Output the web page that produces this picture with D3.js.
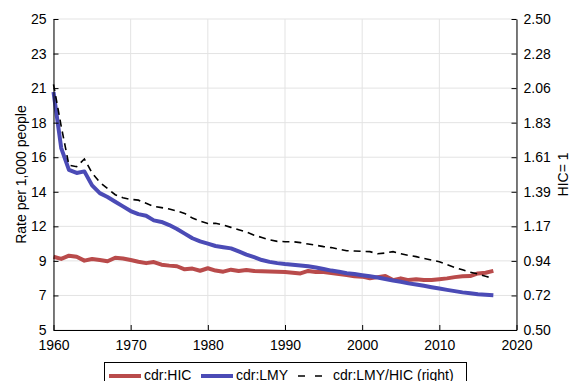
<!DOCTYPE html>
<html><head><meta charset="utf-8">
<script src="https://cdn.jsdelivr.net/npm/d3@7"></script>
<style>
html,body{margin:0;padding:0;background:#fff;}
svg{display:block;font-family:"Liberation Sans",Arial,Helvetica,sans-serif;}
</style></head>
<body>
<svg id="chart" width="573" height="381"></svg>
<script>
const years = d3.range(1960, 2018);
const hic = [9.71,9.57,9.78,9.71,9.46,9.57,9.5,9.42,9.65,9.6,
  9.5,9.39,9.3,9.37,9.2,9.14,9.1,8.9,8.95,8.81,
  8.97,8.82,8.75,8.88,8.8,8.86,8.8,8.78,8.76,8.75,
  8.73,8.68,8.64,8.8,8.73,8.73,8.66,8.6,8.54,8.45,
  8.43,8.32,8.4,8.47,8.21,8.32,8.21,8.26,8.22,8.22,
  8.27,8.32,8.4,8.45,8.47,8.64,8.68,8.8];
const lmy = [20.3,16.7,15.3,15.1,15.2,14.3,13.8,13.55,13.25,12.95,
  12.65,12.45,12.35,12.05,11.95,11.75,11.5,11.2,10.9,10.7,
  10.55,10.4,10.32,10.25,10.05,9.85,9.68,9.5,9.38,9.3,
  9.24,9.2,9.15,9.1,9.02,8.92,8.82,8.75,8.65,8.6,
  8.52,8.45,8.38,8.28,8.18,8.1,8.0,7.92,7.84,7.75,
  7.67,7.58,7.5,7.42,7.36,7.3,7.27,7.24];
const ratio = [2.08,1.81,1.56,1.55,1.60,1.51,1.45,1.41,1.37,1.35,
  1.34,1.335,1.315,1.295,1.287,1.278,1.265,1.25,1.22,1.2,
  1.185,1.186,1.175,1.16,1.145,1.13,1.11,1.095,1.08,1.07,
  1.068,1.068,1.062,1.053,1.045,1.036,1.03,1.02,1.01,1.008,
  1.006,1.004,0.99,0.995,1.004,0.99,0.98,0.972,0.96,0.95,
  0.939,0.92,0.902,0.887,0.872,0.86,0.845,0.832];
const xTicks = [1960,1970,1980,1990,2000,2010,2020];
const leftTicks = d3.range(10).map(i => 5 + i*20/9);
const leftTickLabels = ["5","7","9","12","14","16","18","21","23","25"];
const rightTicks = d3.range(10).map(i => 0.5 + i*2/9);
const rightTickLabels = ["0.50","0.72","0.94","1.17","1.39","1.61","1.83","2.06","2.28","2.50"];
const legendLabels = ["cdr:HIC","cdr:LMY","cdr:LMY/HIC (right)"];

const L = 53.5, R = 516.5, T = 19, B = 330;
const svg = d3.select("#chart");
const x = d3.scaleLinear().domain([1960,2020]).range([L,R]);
const yL = d3.scaleLinear().domain([5,25]).range([B,T]);
const yR = d3.scaleLinear().domain([0.5,2.5]).range([B,T]);
const red = "#b94b4b", blue = "#4b4bb6";

// grid
const grid = svg.append("g").attr("stroke","#e3e3e3").attr("stroke-width",1);
xTicks.forEach(t => grid.append("line").attr("x1",x(t)).attr("x2",x(t)).attr("y1",T).attr("y2",B));
leftTicks.forEach(t => grid.append("line").attr("x1",L).attr("x2",R).attr("y1",yL(t)).attr("y2",yL(t)));

// lines
const lineL = d3.line().x((d,i)=>x(years[i])).y(d=>yL(d));
const lineR = d3.line().x((d,i)=>x(years[i])).y(d=>yR(d));
svg.append("path").datum(hic).attr("d",lineL).attr("fill","none").attr("stroke",red).attr("stroke-width",4).attr("stroke-linejoin","round");
svg.append("path").datum(lmy).attr("d",lineL).attr("fill","none").attr("stroke",blue).attr("stroke-width",4).attr("stroke-linejoin","round");
svg.append("path").datum(ratio).attr("d",lineR).attr("fill","none").attr("stroke","#000").attr("stroke-width",1.6).attr("stroke-dasharray","7,5");

// axes
const fmtL = d => leftTickLabels[leftTicks.indexOf(d)];
const fmtR = d => rightTickLabels[rightTicks.indexOf(d)];
const axL = svg.append("g").attr("transform",`translate(${L},0)`)
  .call(d3.axisLeft(yL).tickValues(leftTicks).tickFormat(fmtL).tickSizeInner(-5).tickSizeOuter(0).tickPadding(7));
const axR = svg.append("g").attr("transform",`translate(${R},0)`)
  .call(d3.axisRight(yR).tickValues(rightTicks).tickFormat(fmtR).tickSizeInner(-5).tickSizeOuter(0).tickPadding(7));
const axB = svg.append("g").attr("transform",`translate(0,${B})`)
  .call(d3.axisBottom(x).tickValues(xTicks).tickFormat(d3.format("d")).tickSizeInner(-5).tickSizeOuter(0).tickPadding(10));
[axL,axR,axB].forEach(a => {
  a.selectAll("text").attr("font-size",14).attr("fill","#000").attr("font-family","Liberation Sans, Arial, sans-serif");
  a.selectAll("line,path").attr("stroke","#000");
});

// axis titles
svg.append("text").attr("transform",`translate(26,${(T+B)/2}) rotate(-90)`).attr("text-anchor","middle")
  .attr("font-size",14).text("Rate per 1,000 people");
svg.append("text").attr("transform",`translate(568,${(T+B)/2}) rotate(-90)`).attr("text-anchor","middle")
  .attr("font-size",14).text("HIC= 1");

// legend
const lg = svg.append("g");
lg.append("rect").attr("x",104.5).attr("y",362.5).attr("width",362).attr("height",30).attr("fill","#fff").attr("stroke","#000").attr("stroke-width",1);
const items = [
  {x1:109, x2:141, tx:144, color:red, w:4, dash:null},
  {x1:201, x2:233, tx:236, color:blue, w:4, dash:null},
  {x1:298, x2:322, tx:333, color:"#000", w:1.6, dash:"7,10"}
];
items.forEach((it,i) => {
  lg.append("line").attr("x1",it.x1).attr("x2",it.x2).attr("y1",376).attr("y2",376)
    .attr("stroke",it.color).attr("stroke-width",it.w).attr("stroke-dasharray",it.dash);
  lg.append("text").attr("x",it.tx).attr("y",379.5).attr("font-size",14).text(legendLabels[i]);
});
</script>
</body></html>
